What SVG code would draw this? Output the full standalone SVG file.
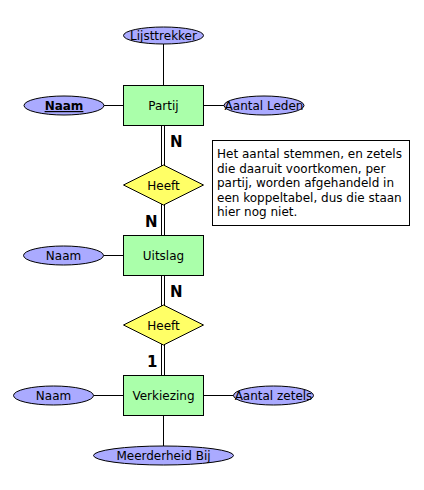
<svg xmlns="http://www.w3.org/2000/svg" width="424" height="490" viewBox="0 0 424 490">
<style>
text{font-family:"DejaVu Sans",Verdana,sans-serif;font-size:12px;fill:#000}
.c{text-anchor:middle}
.ent{fill:#AAFFAA;stroke:#000;stroke-width:1}
.att{fill:#AAAAFF;stroke:#000;stroke-width:1}
.rel{fill:#FFFF66;stroke:#000;stroke-width:1}
.ln{stroke:#000;stroke-width:1;fill:none}
.card{font-weight:bold;font-size:15px}
.note{fill:#fff;stroke:#000;stroke-width:1}
</style>
<rect width="424" height="490" fill="#fff"/>
<g id="connectors">
<line class="ln" x1="163.5" y1="44" x2="163.5" y2="85.5"/>
<line class="ln" x1="104" y1="105.5" x2="123.5" y2="105.5"/>
<line class="ln" x1="203.5" y1="105.5" x2="224" y2="105.5"/>
<line class="ln" x1="161.5" y1="125.5" x2="161.5" y2="166"/>
<line class="ln" x1="164.5" y1="125.5" x2="164.5" y2="166"/>
<line class="ln" x1="161.5" y1="204" x2="161.5" y2="235.5"/>
<line class="ln" x1="164.5" y1="204" x2="164.5" y2="235.5"/>
<line class="ln" x1="103.5" y1="255.5" x2="123.5" y2="255.5"/>
<line class="ln" x1="161.5" y1="275.5" x2="161.5" y2="306"/>
<line class="ln" x1="164.5" y1="275.5" x2="164.5" y2="306"/>
<line class="ln" x1="161.5" y1="344" x2="161.5" y2="375.5"/>
<line class="ln" x1="164.5" y1="344" x2="164.5" y2="375.5"/>
<line class="ln" x1="93.5" y1="395.5" x2="123.5" y2="395.5"/>
<line class="ln" x1="203.5" y1="395.5" x2="233.5" y2="395.5"/>
<line class="ln" x1="163.5" y1="415.5" x2="163.5" y2="446"/>
<text class="card" x="170" y="146.5">N</text>
<text class="card" x="145" y="226.5">N</text>
<text class="card" x="170" y="296.5">N</text>
<text class="card" x="147" y="366.5">1</text>
</g>
<g id="lijsttrekker">
<ellipse class="att" cx="163.5" cy="35.5" rx="40" ry="8.5"/>
<text class="c" x="163.5" y="40">Lijsttrekker</text>
</g>
<g id="partij">
<rect class="ent" x="123.5" y="85.5" width="80" height="40"/>
<text class="c" x="163.5" y="110">Partij</text>
</g>
<g id="partij-naam">
<ellipse class="att" cx="64" cy="105.5" rx="40" ry="9.5"/>
<text class="c" x="64" y="110" font-weight="bold" text-decoration="underline">Naam</text>
</g>
<g id="aantal-leden">
<ellipse class="att" cx="264" cy="105.5" rx="40" ry="9.5"/>
<text class="c" x="264" y="110">Aantal Leden</text>
</g>
<g id="heeft1">
<polygon class="rel" points="163.5,165 203.5,185 163.5,205 123.5,185"/>
<text class="c" x="163.5" y="189.5">Heeft</text>
</g>
<g id="note">
<rect class="note" x="212.5" y="140.5" width="197" height="85"/>
<text x="217" y="158">Het aantal stemmen, en zetels</text>
<text x="217" y="172.5">die daaruit voortkomen, per</text>
<text x="217" y="187">partij, worden afgehandeld in</text>
<text x="217" y="201.5">een koppeltabel, dus die staan</text>
<text x="217" y="216">hier nog niet.</text>
</g>
<g id="uitslag">
<rect class="ent" x="123.5" y="235.5" width="80" height="40"/>
<text class="c" x="163.5" y="260">Uitslag</text>
</g>
<g id="uitslag-naam">
<ellipse class="att" cx="63.5" cy="255.5" rx="40" ry="9.5"/>
<text class="c" x="63.5" y="260">Naam</text>
</g>
<g id="heeft2">
<polygon class="rel" points="163.5,305 203.5,325 163.5,345 123.5,325"/>
<text class="c" x="163.5" y="329.5">Heeft</text>
</g>
<g id="verkiezing">
<rect class="ent" x="123.5" y="375.5" width="80" height="40"/>
<text class="c" x="163.5" y="400">Verkiezing</text>
</g>
<g id="verkiezing-naam">
<ellipse class="att" cx="53.5" cy="395.5" rx="40" ry="9.5"/>
<text class="c" x="53.5" y="400">Naam</text>
</g>
<g id="aantal-zetels">
<ellipse class="att" cx="273.5" cy="395.5" rx="40" ry="9.5"/>
<text class="c" x="273.5" y="400">Aantal zetels</text>
</g>
<g id="meerderheid-bij">
<ellipse class="att" cx="163.5" cy="455.5" rx="70" ry="9.5"/>
<text class="c" x="163.5" y="460">Meerderheid Bij</text>
</g>
</svg>
